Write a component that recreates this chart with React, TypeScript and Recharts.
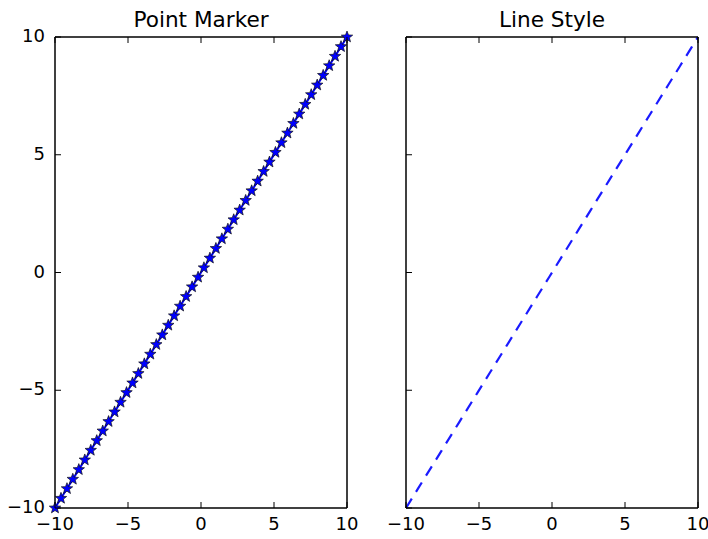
import React from "react";
import { LineChart, Line, XAxis, YAxis } from "recharts";

const xValues = [
  -10, -9.59, -9.18, -8.78, -8.37, -7.96, -7.55, -7.14, -6.73, -6.33,
  -5.92, -5.51, -5.1, -4.69, -4.29, -3.88, -3.47, -3.06, -2.65, -2.24,
  -1.84, -1.43, -1.02, -0.61, -0.2, 0.2, 0.61, 1.02, 1.43, 1.84,
  2.24, 2.65, 3.06, 3.47, 3.88, 4.29, 4.69, 5.1, 5.51, 5.92,
  6.33, 6.73, 7.14, 7.55, 7.96, 8.37, 8.78, 9.18, 9.59, 10,
];
const yValues = [
  -10, -9.59, -9.18, -8.78, -8.37, -7.96, -7.55, -7.14, -6.73, -6.33,
  -5.92, -5.51, -5.1, -4.69, -4.29, -3.88, -3.47, -3.06, -2.65, -2.24,
  -1.84, -1.43, -1.02, -0.61, -0.2, 0.2, 0.61, 1.02, 1.43, 1.84,
  2.24, 2.65, 3.06, 3.47, 3.88, 4.29, 4.69, 5.1, 5.51, 5.92,
  6.33, 6.73, 7.14, 7.55, 7.96, 8.37, 8.78, 9.18, 9.59, 10,
];
const axisTicks = [-10, -5, 0, 5, 10];
const titles = ["Point Marker", "Line Style"];

const data = xValues.map((x, i) => ({ x, y: yValues[i] }));

const FONT = "'DejaVu Sans', sans-serif";
const TICK_LEN = 6;
const fmt = (v: number) => (v < 0 ? "\u2212" + Math.abs(v) : String(v));

const BottomTick = (props: any) => {
  const { x, y, payload } = props;
  return (
    <g>
      <line x1={x} y1={y} x2={x} y2={y - TICK_LEN} stroke="#000" strokeWidth={1} />
      <text x={x} y={y + 22} textAnchor="middle" fontSize={18} fontFamily={FONT} fill="#000">
        {fmt(payload.value)}
      </text>
    </g>
  );
};
const TopTick = (props: any) => {
  const { x, y } = props;
  return <line x1={x} y1={y} x2={x} y2={y + TICK_LEN} stroke="#000" strokeWidth={1} />;
};
const LeftTickLabel = (props: any) => {
  const { x, y, payload } = props;
  return (
    <g>
      <line x1={x} y1={y} x2={x + TICK_LEN} y2={y} stroke="#000" strokeWidth={1} />
      <text x={x - 10} y={y + 5} textAnchor="end" fontSize={18} fontFamily={FONT} fill="#000">
        {fmt(payload.value)}
      </text>
    </g>
  );
};
const LeftTickNoLabel = (props: any) => {
  const { x, y } = props;
  return <line x1={x} y1={y} x2={x + TICK_LEN} y2={y} stroke="#000" strokeWidth={1} />;
};
const RightTick = (props: any) => {
  const { x, y } = props;
  return <line x1={x} y1={y} x2={x - TICK_LEN} y2={y} stroke="#000" strokeWidth={1} />;
};

const Star = (props: any) => {
  const { cx, cy, index } = props;
  if (cx == null || cy == null) return <g key={index} />;
  const R = 6;
  const r = R * 0.42;
  const pts: string[] = [];
  for (let k = 0; k < 10; k++) {
    const ang = -Math.PI / 2 + (k * Math.PI) / 5;
    const rad = k % 2 === 0 ? R : r;
    pts.push(`${cx + rad * Math.cos(ang)},${cy + rad * Math.sin(ang)}`);
  }
  return <polygon key={index} points={pts.join(" ")} fill="#0000ff" stroke="#111" strokeWidth={0.7} />;
};

const axisLineStyle = { stroke: "#000", strokeWidth: 1.5 };

function Panel({ showYLabels, leftWidth, rightWidth, children }: any) {
  const width = leftWidth + 292 + rightWidth;
  return (
    <LineChart width={width} height={539} data={data} margin={{ top: 0, right: 0, bottom: 0, left: 0 }}>
      <XAxis
        xAxisId="b"
        dataKey="x"
        type="number"
        orientation="bottom"
        domain={[-10, 10]}
        ticks={axisTicks}
        interval={0}
        height={31}
        tickSize={0}
        tickMargin={0}
        tickLine={false}
        axisLine={axisLineStyle}
        tick={<BottomTick />}
      />
      <XAxis
        xAxisId="t"
        dataKey="x"
        type="number"
        orientation="top"
        domain={[-10, 10]}
        ticks={axisTicks}
        interval={0}
        height={37}
        tickSize={0}
        tickMargin={0}
        tickLine={false}
        axisLine={axisLineStyle}
        tick={<TopTick />}
      />
      <YAxis
        yAxisId="l"
        type="number"
        orientation="left"
        domain={[-10, 10]}
        ticks={axisTicks}
        interval={0}
        width={leftWidth}
        tickSize={0}
        tickMargin={0}
        tickLine={false}
        axisLine={axisLineStyle}
        tick={showYLabels ? <LeftTickLabel /> : <LeftTickNoLabel />}
      />
      <YAxis
        yAxisId="r"
        type="number"
        orientation="right"
        domain={[-10, 10]}
        ticks={axisTicks}
        interval={0}
        width={rightWidth}
        tickSize={0}
        tickMargin={0}
        tickLine={false}
        axisLine={axisLineStyle}
        tick={<RightTick />}
      />
      {children}
    </LineChart>
  );
}

export default function App() {
  return (
    <div style={{ position: "absolute", left: 0, top: 0, width: 708, height: 539, background: "#fff" }}>
      <style>{`.recharts-surface{overflow:visible}`}</style>
      <div style={{ position: "absolute", left: 354, top: 0 }}>
        <Panel showYLabels={false} leftWidth={52} rightWidth={10}>
          <Line
            xAxisId="b"
            yAxisId="l"
            dataKey="y"
            type="linear"
            stroke="#1a1aff"
            strokeWidth={2.2}
            strokeDasharray="11 8"
            dot={false}
            activeDot={false}
            isAnimationActive={false}
          />
        </Panel>
      </div>
      <div style={{ position: "absolute", left: 0, top: 0 }}>
        <Panel showYLabels leftWidth={55} rightWidth={7}>
          <Line
            xAxisId="b"
            yAxisId="l"
            dataKey="y"
            type="linear"
            stroke="#0000ff"
            strokeWidth={2}
            dot={<Star />}
            activeDot={false}
            isAnimationActive={false}
          />
        </Panel>
      </div>
      <svg width={708} height={539} style={{ position: "absolute", left: 0, top: 0, pointerEvents: "none" }}>
        <text x={201} y={27} textAnchor="middle" fontSize={21.6} fontFamily={FONT} fill="#000">
          {titles[0]}
        </text>
        <text x={552} y={27} textAnchor="middle" fontSize={21.6} fontFamily={FONT} fill="#000">
          {titles[1]}
        </text>
      </svg>
    </div>
  );
}
